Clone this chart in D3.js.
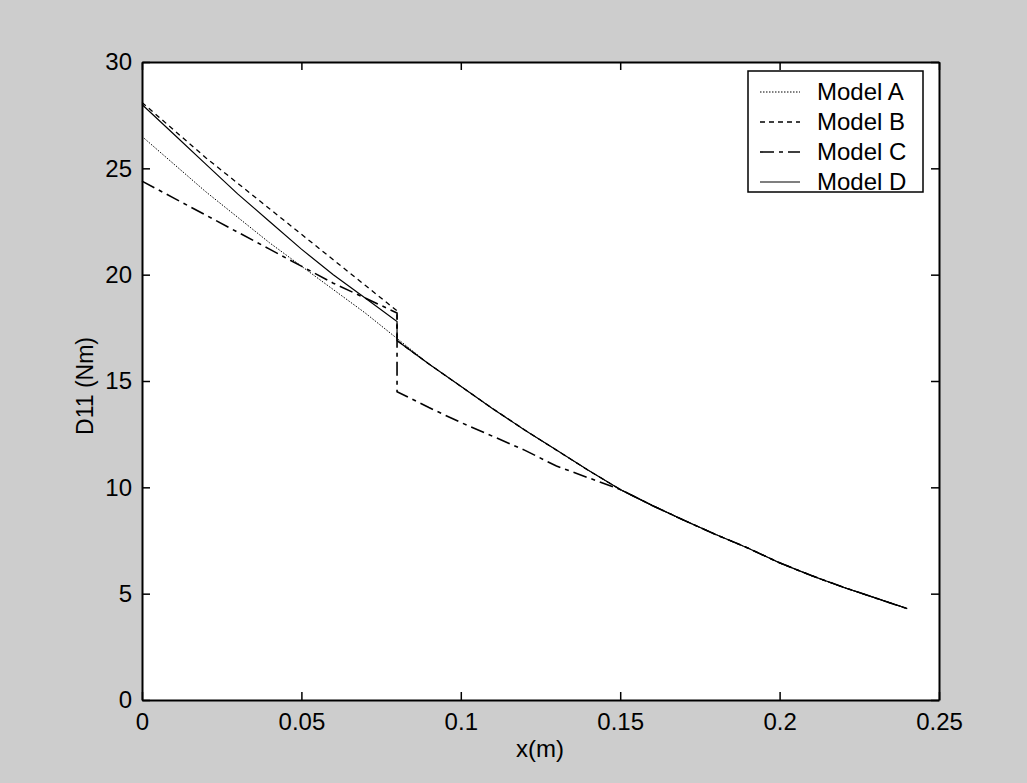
<!DOCTYPE html>
<html><head><meta charset="utf-8">
<script src="https://cdn.jsdelivr.net/npm/d3@7"></script>
<style>
html,body{margin:0;padding:0;background:#cdcdcd;}
svg{display:block;}
text{font-family:"Liberation Sans",Arial,sans-serif;fill:#000;}
</style></head>
<body>
<svg id="chart" width="1027" height="783"></svg>
<script>
// ---- data ----
const xValues = [0,0.01,0.02,0.03,0.04,0.05,0.06,0.07,0.08,0.08,0.09,0.10,0.11,0.12,0.13,0.14,0.15,0.16,0.17,0.18,0.19,0.20,0.21,0.22,0.23,0.24];
const modelA = [26.5,25.2,23.9,22.7,21.5,20.4,19.3,18.2,17.0,17.0,15.8,14.75,13.7,12.7,11.75,10.8,9.9,9.15,8.45,7.78,7.15,6.45,5.85,5.3,4.8,4.3];
const modelB = [28.1,26.8,25.5,24.3,23.1,21.9,20.7,19.5,18.3,16.9,15.8,14.75,13.7,12.7,11.75,10.8,9.9,9.15,8.45,7.78,7.15,6.45,5.85,5.3,4.8,4.3];
const modelC = [24.4,23.6,22.8,22.0,21.2,20.4,19.6,18.9,18.2,14.5,13.75,13.05,12.4,11.75,11.0,10.45,9.9,9.15,8.45,7.78,7.15,6.45,5.85,5.3,4.8,4.3];
const modelD = [28.0,26.6,25.2,23.8,22.5,21.2,20.0,18.9,17.8,16.9,15.8,14.75,13.7,12.7,11.75,10.8,9.9,9.15,8.45,7.78,7.15,6.45,5.85,5.3,4.8,4.3];
const seriesNames = ["Model A","Model B","Model C","Model D"];
const xTicks = [0,0.05,0.1,0.15,0.2,0.25];
const xTickLabels = ["0","0.05","0.1","0.15","0.2","0.25"];
const yTicks = [0,5,10,15,20,25,30];
const yTickLabels = ["0","5","10","15","20","25","30"];
const xLabel = "x(m)";
const yLabel = "D11 (Nm)";

// ---- layout ----
const svg = d3.select("#chart");
const L = 142, R = 939, T = 62, B = 700;
const x = d3.scaleLinear().domain([0,0.25]).range([L,R]);
const y = d3.scaleLinear().domain([0,30]).range([B,T]);
const fs = 24;

svg.append("rect").attr("x",0).attr("y",0).attr("width",1027).attr("height",783).attr("fill","#cdcdcd");
svg.append("rect").attr("x",L).attr("y",T).attr("width",R-L).attr("height",B-T).attr("fill","#fff");

// axes with inward ticks
const tickLen = 8;
const axB = d3.axisBottom(x).tickValues(xTicks).tickSizeInner(-tickLen).tickSizeOuter(0).tickPadding(13)
  .tickFormat((d,i)=>xTickLabels[i]);
const axT = d3.axisTop(x).tickValues(xTicks).tickSizeInner(-tickLen).tickSizeOuter(0).tickFormat("");
const axL = d3.axisLeft(y).tickValues(yTicks).tickSizeInner(-tickLen).tickSizeOuter(0).tickPadding(10)
  .tickFormat((d,i)=>yTickLabels[i]);
const axR = d3.axisRight(y).tickValues(yTicks).tickSizeInner(-tickLen).tickSizeOuter(0).tickFormat("");

function style(g){
  g.select(".domain").attr("stroke","#000").attr("stroke-width",2);
  g.selectAll(".tick line").attr("stroke","#000").attr("stroke-width",1.5);
  g.selectAll(".tick text").attr("font-size",fs).attr("font-family","'Liberation Sans',Arial,sans-serif").attr("fill","#000");
}
svg.append("g").attr("transform",`translate(0,${B})`).call(axB).call(style);
svg.append("g").attr("transform",`translate(0,${T})`).call(axT).call(style);
svg.append("g").attr("transform",`translate(${L},0)`).call(axL).call(style);
svg.append("g").attr("transform",`translate(${R},0)`).call(axR).call(style);

// labels
svg.append("text").attr("x",540).attr("y",757).attr("text-anchor","middle").attr("font-size",fs).text(xLabel);
svg.append("text").attr("transform",`translate(93,386) rotate(-90)`).attr("text-anchor","middle").attr("font-size",23).text(yLabel);

// lines
const styles = [
  {data:modelA, dash:"1.5,1.5", w:1},
  {data:modelB, dash:"5,4", w:1.3},
  {data:modelC, dash:"14,5,4,5", w:1.6},
  {data:modelD, dash:null, w:1.2}
];
const line = d3.line().x((d,i)=>x(xValues[i])).y(d=>y(d));
const plot = svg.append("g");
styles.forEach(s=>{
  const p = plot.append("path").datum(s.data).attr("d",line).attr("fill","none")
    .attr("stroke","#000").attr("stroke-width",s.w);
  if(s.dash) p.attr("stroke-dasharray",s.dash);
});

// legend
const lg = svg.append("g");
lg.append("rect").attr("x",748).attr("y",71).attr("width",175).attr("height",121)
  .attr("fill","#fff").attr("stroke","#000").attr("stroke-width",1.5);
seriesNames.forEach((n,i)=>{
  const yy = 92 + i*30;
  const s = styles[i];
  const l = lg.append("line").attr("x1",760).attr("x2",800).attr("y1",yy).attr("y2",yy)
    .attr("stroke","#000").attr("stroke-width",s.w);
  if(s.dash) l.attr("stroke-dasharray",s.dash);
  lg.append("text").attr("x",817).attr("y",yy+8).attr("font-size",fs).text(n);
});
</script>
</body></html>
